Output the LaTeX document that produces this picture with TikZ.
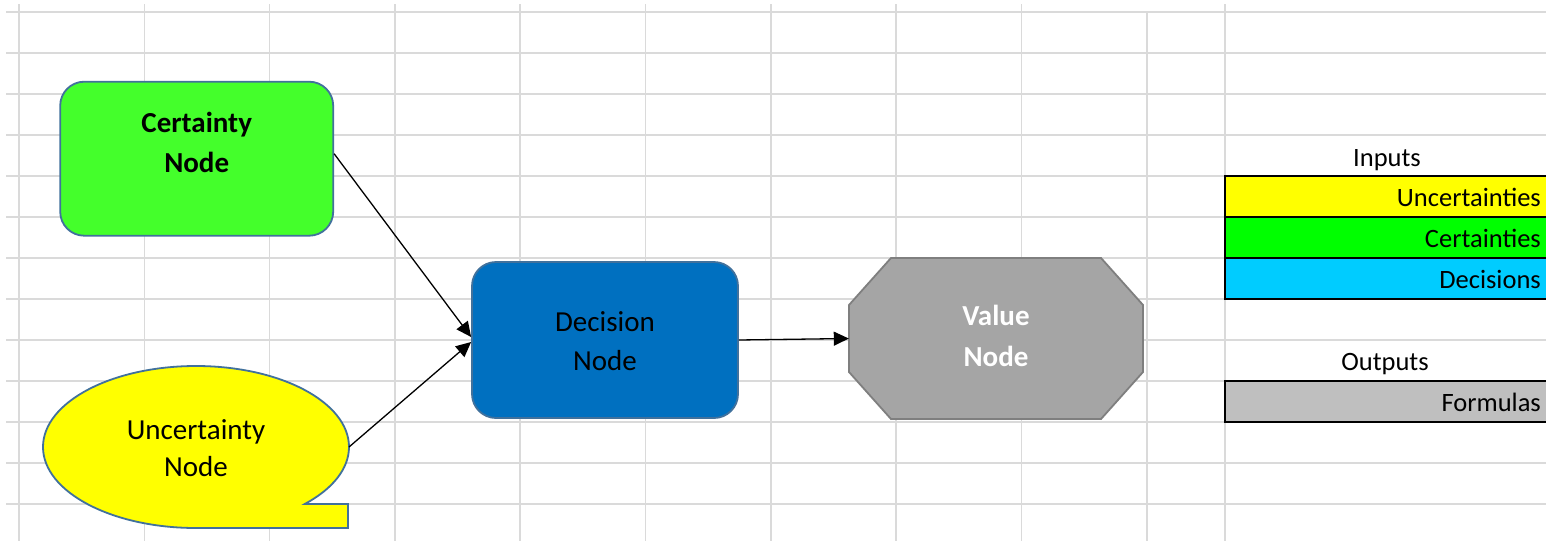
\documentclass[tikz,border=0pt]{standalone}
\usepackage{fontspec}
\setmainfont{Carlito}
\usetikzlibrary{arrows.meta}

\definecolor{gridgray}{HTML}{DADADA}
\definecolor{nodeedge}{HTML}{41719C}
\definecolor{certgreen}{HTML}{44FF2B}
\definecolor{decblue}{HTML}{0070C0}
\definecolor{valgray}{HTML}{A5A5A5}
\definecolor{valedge}{HTML}{7F7F7F}
\definecolor{legyellow}{HTML}{FFFF00}
\definecolor{leggreen}{HTML}{00FF00}
\definecolor{legcyan}{HTML}{00CCFF}
\definecolor{legsilver}{HTML}{BFBFBF}

\tikzset{
  gridline/.style={draw=gridgray, line width=1.6pt},
  shapeedge/.style={draw=nodeedge, line width=1.8pt},
  nodetext/.style={align=center, inner sep=0pt, font=\fontsize{29}{40}\selectfont},
  legtext/.style={inner sep=0pt, font=\fontsize{26.5}{32}\selectfont},
  legrow/.style={draw=black, line width=2pt},
  link/.style={draw=black, line width=1.3pt, -{Triangle[length=15pt,width=14pt]}},
}

\begin{document}
\begin{tikzpicture}[x=1pt, y=1pt]
\fill[white] (0,0) rectangle (1546,-541);
\useasboundingbox (0,0) rectangle (1546,-541);

% worksheet grid
\foreach \gy in {11.7,52.7,93.7,134.7,175.7,216.7,257.7,298.7,339.7,380.7,421.7,462.7,503.7}
  \draw[gridline] (6,-\gy) -- (1546,-\gy);
\foreach \gx in {19,144.3,269.6,395,520.2,645.5,770.8,896,1021.3,1225}
  \draw[gridline] (\gx,-4) -- (\gx,-541);
\draw[gridline] (1146.7,-11.7) -- (1146.7,-541);

% certainty node
\node[shapeedge, fill=certgreen, rounded corners=24pt, minimum width=273pt,
      minimum height=154pt, inner sep=0pt] (cert) at (196.7,-158.7) {};
\node[nodetext, font=\fontsize{29}{40}\selectfont\bfseries] (certtxt) at (196.7,-142) {Certainty\\Node};

% uncertainty node (sequential-storage outline)
\path[shapeedge, fill=legyellow]
  (304.7,-504) -- (348,-504) -- (348,-528) -- (196,-528)
  arc[start angle=270, end angle=-44.7, x radius=153pt, y radius=81pt] -- cycle;
\coordinate (uncE) at (349,-447);
\node[nodetext, font=\fontsize{29}{37}\selectfont] (unctxt) at (196,-448) {Uncertainty\\Node};

% decision node
\node[shapeedge, fill=decblue, rounded corners=24pt, minimum width=266pt,
      minimum height=156pt, inner sep=0pt] (dec) at (605,-340) {};
\node[nodetext, font=\fontsize{29}{39}\selectfont] (dectxt) at (605,-341) {Decision\\Node};

% value node (octagon)
\node[minimum width=294pt, minimum height=161pt, inner sep=0pt] (val) at (996,-338.5) {};
\path[draw=valedge, line width=1.8pt, fill=valgray]
  (891,-258) -- (1101,-258) -- (1143,-305) -- (1143,-372) -- (1101,-419)
  -- (891,-419) -- (849,-372) -- (849,-305) -- cycle;
\node[nodetext, text=white, font=\fontsize{29}{41}\selectfont\bfseries] (valtxt) at (996,-336) {Value\\Node};

% connectors
\draw[link] ([yshift=5pt]cert.east) -- ([yshift=3pt]dec.west);
\draw[link] (uncE) -- ([yshift=-2pt]dec.west);
\draw[link] (dec.east) -- (val.west);

% legend
\node[legtext, anchor=base] (inputs) at (1387,-166) {Inputs};
\path[legrow, fill=legyellow] (1225,-175.7) rectangle (1556,-216.7);
\path[legrow, fill=leggreen] (1225,-216.7) rectangle (1556,-257.7);
\path[legrow, fill=legcyan] (1225,-257.7) rectangle (1556,-298.7);
\node[legtext, anchor=base east] (lunc) at (1541,-206.5) {Uncertainties};
\node[legtext, anchor=base east] (lcert) at (1541,-247.5) {Certainties};
\node[legtext, anchor=base east] (ldec) at (1541,-288.5) {Decisions};

\node[legtext, anchor=base] (outputs) at (1385,-370.7) {Outputs};
\path[legrow, fill=legsilver] (1225,-380.7) rectangle (1556,-421.7);
\node[legtext, anchor=base east] (lform) at (1541,-411.5) {Formulas};
\end{tikzpicture}
\end{document}
